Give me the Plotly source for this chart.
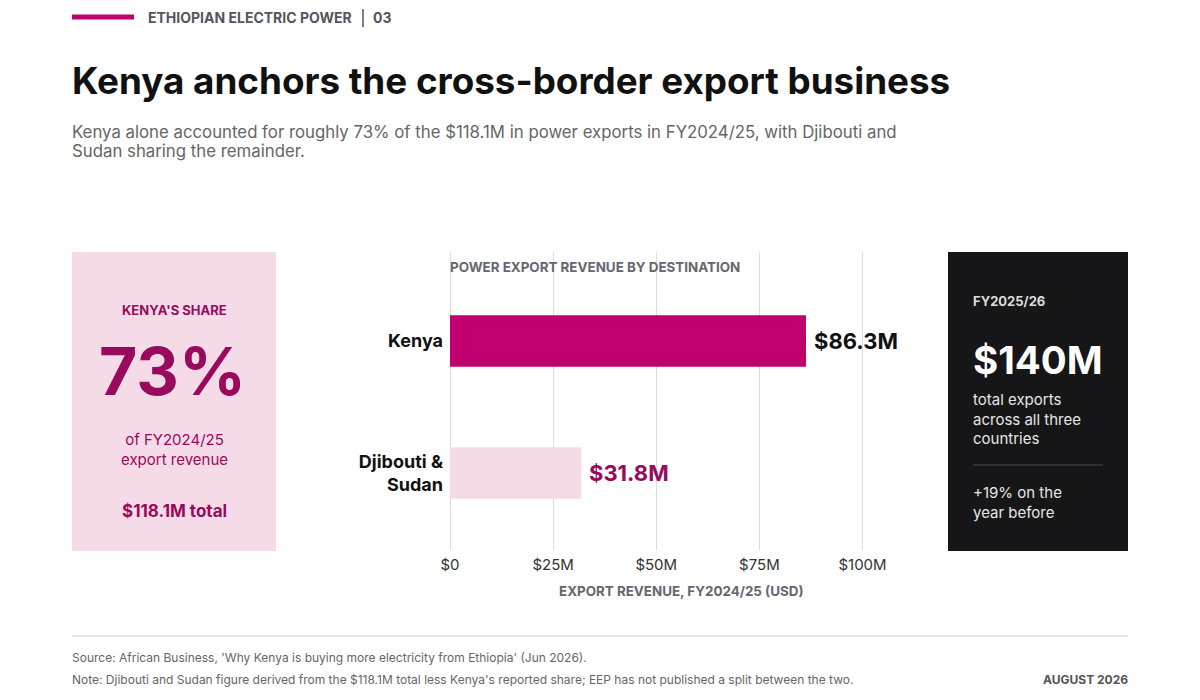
import plotly.graph_objects as go

# data
destinations = ["Kenya", "Djibouti &<br>Sudan"]
revenue_musd = [86.3, 31.8]
value_labels = ["$86.3M", "$31.8M"]
tick_values = [0, 25, 50, 75, 100]
tick_text = ["$0", "$25M", "$50M", "$75M", "$100M"]

W, H = 1200, 700
FONT = "Inter, Roboto, sans-serif"
MAGENTA = "#c0006e"
DEEP = "#990a5c"
PINK = "#f5dbe8"
DARK = "#161618"


def py(px):
    # pixel from top -> paper y
    return 1 - px / H


def px_x(px):
    return px / W


def txt(x, y, s, size, color, bold=False, xanchor="left"):
    # annotations carry ~2px of padding, so nudge the anchor to land on x
    nudge = {"left": -2, "right": 2, "center": 0}[xanchor]
    return dict(
        x=px_x(x + nudge), y=py(y), xref="paper", yref="paper", text=s, showarrow=False,
        xanchor=xanchor, yanchor="middle", align="center" if xanchor == "center" else "left",
        font=dict(family=FONT, size=size, color=color, weight=700 if bold else 400),
    )


fig = go.Figure()

fig.add_trace(go.Bar(
    x=revenue_musd,
    y=destinations,
    orientation="h",
    width=0.39,
    marker=dict(color=[MAGENTA, PINK], line=dict(width=0)),
    hoverinfo="skip",
))

annotations = []

# value labels beside the bars
for d, v, lab, c in zip(destinations, revenue_musd, value_labels, ["#111111", DEEP]):
    annotations.append(dict(
        x=v, y=d, xref="x", yref="y", text=lab, showarrow=False,
        xanchor="left", yanchor="middle", xshift=6,
        font=dict(family=FONT, size=22, color=c, weight=700),
    ))

# header
annotations.append(txt(148, 18, "ETHIOPIAN ELECTRIC POWER", 14, "#55555f", bold=True))
annotations.append(txt(373, 18, "03", 14, "#55555f", bold=True))
annotations.append(txt(72, 80, "Kenya anchors the cross-border export business", 36.8, "#111111", bold=True))
annotations.append(txt(72, 132, "Kenya alone accounted for roughly 73% of the $118.1M in power exports in FY2024/25, with Djibouti and", 16.8, "#666666"))
annotations.append(txt(72, 151, "Sudan sharing the remainder.", 16.8, "#666666"))

# chart labels
annotations.append(txt(450, 267, "POWER EXPORT REVENUE BY DESTINATION", 13.4, "#666670", bold=True))
annotations.append(txt(681, 591, "EXPORT REVENUE, FY2024/25 (USD)", 13.4, "#666670", bold=True, xanchor="center"))

# left card
annotations.append(txt(174, 310, "KENYA'S SHARE", 13, DEEP, bold=True, xanchor="center"))
annotations.append(txt(172, 371, "73%", 66, DEEP, bold=True, xanchor="center"))
annotations.append(txt(174, 449, "of FY2024/25<br>export revenue", 15, DEEP, xanchor="center"))
annotations.append(txt(174, 511, "$118.1M total", 17, DEEP, bold=True, xanchor="center"))

# right card
annotations.append(txt(973, 301, "FY2025/26", 13, "#dddddd", bold=True))
annotations.append(txt(973, 360, "$140M", 38.5, "#ffffff", bold=True))
annotations.append(txt(973, 419, "total exports<br>across all three<br>countries", 15, "#e6e6e6"))
annotations.append(txt(973, 502, "+19% on the<br>year before", 15, "#e6e6e6"))

# footer
annotations.append(txt(72, 657, "Source: African Business, 'Why Kenya is buying more electricity from Ethiopia' (Jun 2026).", 12, "#666666"))
annotations.append(txt(72, 679, "Note: Djibouti and Sudan figure derived from the $118.1M total less Kenya's reported share; EEP has not published a split between the two.", 12, "#666666"))
annotations.append(txt(1128, 679, "AUGUST 2026", 12, "#555555", bold=True, xanchor="right"))

shapes = [
    dict(type="line", xref="paper", yref="paper", x0=px_x(72), x1=px_x(134), y0=py(17), y1=py(17),
         line=dict(color=MAGENTA, width=5)),
    dict(type="line", xref="paper", yref="paper", x0=px_x(363), x1=px_x(363), y0=py(9), y1=py(27),
         line=dict(color="#55555f", width=1.5)),
    dict(type="rect", xref="paper", yref="paper", x0=px_x(72), x1=px_x(276), y0=py(551), y1=py(252),
         fillcolor=PINK, line=dict(width=0), layer="below"),
    dict(type="rect", xref="paper", yref="paper", x0=px_x(948), x1=px_x(1128), y0=py(551), y1=py(252),
         fillcolor=DARK, line=dict(width=0), layer="below"),
    dict(type="line", xref="paper", yref="paper", x0=px_x(973), x1=px_x(1103), y0=py(465), y1=py(465),
         line=dict(color="#48484c", width=1)),
    dict(type="line", xref="paper", yref="paper", x0=px_x(72), x1=px_x(1128), y0=py(636), y1=py(636),
         line=dict(color="#cccccc", width=1)),
]

fig.update_layout(
    width=W, height=H,
    margin=dict(l=0, r=0, t=0, b=0, pad=0),
    paper_bgcolor="#ffffff", plot_bgcolor="rgba(0,0,0,0)",
    showlegend=False,
    font=dict(family=FONT, color="#222222"),
    annotations=annotations,
    shapes=shapes,
    xaxis=dict(
        domain=[px_x(450), px_x(912)],
        range=[0, 112],
        tickvals=tick_values, ticktext=tick_text,
        tickfont=dict(family=FONT, size=15, color="#333333"),
        showgrid=True, gridcolor="#dddddd", gridwidth=1,
        zeroline=True, zerolinecolor="#dddddd", zerolinewidth=1,
        showline=False, ticks="", ticklabelstandoff=4,
        automargin=False, fixedrange=True,
    ),
    yaxis=dict(
        domain=[py(550), py(252)],
        type="category",
        range=[1.583, -0.674],
        tickfont=dict(family=FONT, size=18, color="#111111", weight=700),
        showgrid=False, zeroline=False, showline=False, ticks="",
        ticklabelstandoff=6,
        automargin=False, fixedrange=True,
    ),
)

fig.write_html("out.html", config={"displayModeBar": False},
               post_script="document.body.style.margin='0px';")
